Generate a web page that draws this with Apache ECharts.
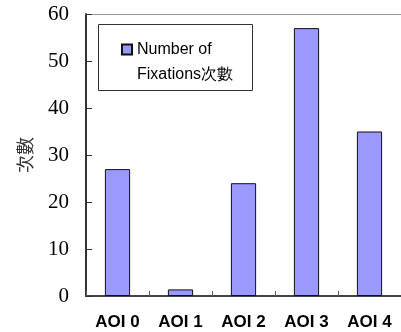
<!DOCTYPE html>
<html>
<head>
<meta charset="utf-8">
<script src="https://cdn.jsdelivr.net/npm/echarts@6/dist/echarts.min.js"></script>
<style>
  html, body { margin: 0; padding: 0; background: #fff; }
  #chart { width: 401px; height: 332px; }
</style>
</head>
<body>
<div id="chart"></div>
<script>
  const categories = ['AOI 0', 'AOI 1', 'AOI 2', 'AOI 3', 'AOI 4']
  const fixations = [27, 1.4, 24, 57, 35]
  const seriesName = 'Number of\nFixations次數'
  const yTitle = '次數'

  const chart = echarts.init(document.getElementById('chart'))
  const option = {
    animation: false,
    grid: { left: 86, right: -3, top: 14, bottom: 36 },
    // legend box drawn as a plain rect behind the legend
    graphic: [
      {
        type: 'rect',
        left: 98, top: 24, z: 1,
        shape: { width: 154, height: 66 },
        style: { fill: '#fff', stroke: '#333', lineWidth: 1 }
      }
    ],
    legend: {
      left: 121,
      top: 12,
      padding: 0,
      z: 5,
      icon: 'rect',
      itemWidth: 10,
      itemHeight: 10,
      itemGap: 5,
      data: [seriesName],
      // blank first line so the icon sits beside "Number of"
      formatter: name => '\n' + name,
      textStyle: {
        fontFamily: 'Liberation Sans, Arial',
        fontSize: 16,
        color: '#000',
        lineHeight: 25
      }
    },
    xAxis: [
      {
        type: 'category',
        data: categories,
        position: 'bottom',
        axisLine: { lineStyle: { color: '#444', width: 2 } },
        axisTick: { show: true, inside: true, length: 5, lineStyle: { color: '#555' } },
        axisLabel: {
          margin: 18,
          fontFamily: 'Liberation Sans, Arial',
          fontWeight: 'bold',
          fontSize: 17,
          color: '#000'
        }
      },
      {
        type: 'category',
        data: categories,
        position: 'top',
        axisLine: { lineStyle: { color: '#999', width: 1 } },
        axisTick: { show: false },
        axisLabel: { show: false }
      }
    ],
    yAxis: {
      type: 'value',
      min: 0,
      max: 60,
      interval: 10,
      name: yTitle,
      nameLocation: 'middle',
      nameRotate: 90,
      nameGap: 52,
      nameTextStyle: {
        fontFamily: 'Noto Sans CJK TC',
        fontSize: 18,
        color: '#333'
      },
      axisLine: { show: true, lineStyle: { color: '#333', width: 2 } },
      axisTick: { show: true, inside: true, length: 6, lineStyle: { color: '#333' } },
      splitLine: { show: false },
      axisLabel: {
        margin: 17,
        fontFamily: 'Liberation Serif, Times New Roman',
        fontSize: 21,
        color: '#000'
      }
    },
    series: [
      {
        name: seriesName,
        type: 'bar',
        xAxisIndex: 0,
        data: fixations,
        barWidth: '40%',
        itemStyle: { color: '#9999ff', borderColor: '#111', borderWidth: 1 }
      }
    ]
  }
  chart.setOption(option)
</script>
</body>
</html>
